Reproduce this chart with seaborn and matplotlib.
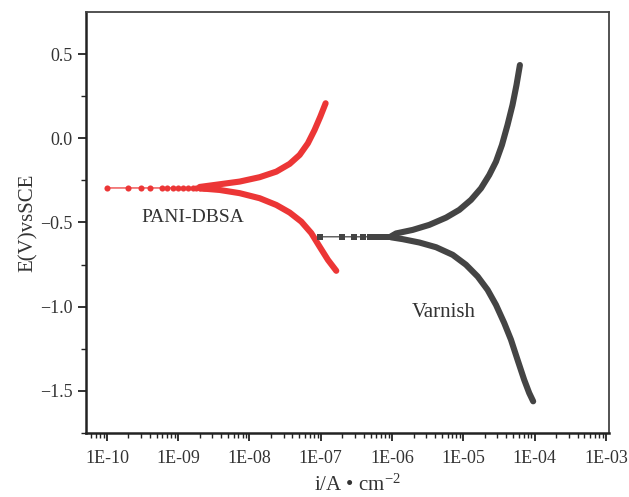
import numpy as np
import pandas as pd
import matplotlib
matplotlib.use("Agg")
import matplotlib.pyplot as plt
import seaborn as sns
from matplotlib.ticker import FixedLocator, FixedFormatter, LogLocator, NullFormatter

# ---- data ----
# PANI-DBSA: flat part near Ecorr (markers), then anodic / cathodic branches
pani_flat_i = [1.0e-10, 2.0e-10, 3.0e-10, 4.0e-10, 6.0e-10, 7.0e-10, 8.5e-10, 1.0e-9,
               1.17e-9, 1.38e-9, 1.62e-9, 1.8e-9, 2.0e-9, 2.2e-9, 2.4e-9, 2.65e-9,
               2.9e-9, 3.15e-9, 3.4e-9]
pani_flat_E = [-0.295, -0.295, -0.295, -0.295, -0.295, -0.295, -0.295, -0.295,
               -0.295, -0.295, -0.295, -0.294, -0.294, -0.294, -0.294, -0.293,
               -0.293, -0.292, -0.292]
pani_anodic_i = [2.0e-9, 3.83e-9, 7.3e-9, 1.39e-8, 2.38e-8, 3.66e-8, 5.05e-8,
                 6.59e-8, 8.18e-8, 9.84e-8, 1.17e-7]
pani_anodic_E = [-0.289, -0.273, -0.257, -0.231, -0.198, -0.152, -0.099,
                 -0.030, 0.049, 0.128, 0.208]
pani_cathodic_i = [2.0e-9, 3.83e-9, 7.3e-9, 1.39e-8, 2.38e-8, 3.66e-8, 5.33e-8,
                   7.36e-8, 9.62e-8, 1.26e-7, 1.65e-7]
pani_cathodic_E = [-0.297, -0.307, -0.326, -0.356, -0.396, -0.441, -0.495,
                   -0.563, -0.643, -0.722, -0.787]

# Varnish
varn_flat_i = [9.84e-8, 2.0e-7, 2.88e-7, 3.89e-7, 4.94e-7, 5.98e-7, 7.03e-7,
               7.6e-7, 8.26e-7, 8.9e-7, 9.7e-7, 1.05e-6, 1.14e-6]
varn_flat_E = [-0.585, -0.585, -0.585, -0.585, -0.585, -0.585, -0.585,
               -0.585, -0.585, -0.585, -0.584, -0.584, -0.584]
varn_anodic_i = [9.7e-7, 1.14e-6, 1.95e-6, 3.34e-6, 5.73e-6, 8.79e-6, 1.28e-5,
                 1.77e-5, 2.31e-5, 2.87e-5, 3.48e-5, 4.17e-5, 4.90e-5, 5.57e-5, 6.22e-5]
varn_anodic_E = [-0.582, -0.565, -0.544, -0.514, -0.471, -0.425, -0.366,
                 -0.297, -0.218, -0.139, -0.040, 0.079, 0.198, 0.316, 0.435]
varn_cathodic_i = [9.7e-7, 1.41e-6, 2.42e-6, 4.15e-6, 7.09e-6, 1.09e-5, 1.59e-5,
                   2.19e-5, 2.87e-5, 3.75e-5, 4.66e-5, 5.76e-5, 7.14e-5, 8.39e-5, 9.55e-5]
varn_cathodic_E = [-0.588, -0.599, -0.619, -0.647, -0.692, -0.751, -0.821,
                   -0.900, -0.989, -1.097, -1.196, -1.315, -1.434, -1.512, -1.562]

x_ticks = [1e-10, 1e-9, 1e-8, 1e-7, 1e-6, 1e-5, 1e-4, 1e-3]
x_tick_labels = ["1E-10", "1E-09", "1E-08", "1E-07", "1E-06", "1E-05", "1E-04", "1E-03"]
y_ticks = [-1.5, -1.0, -0.5, 0.0, 0.5]
y_tick_labels = ["\u22121.5", "\u22121.0", "\u22120.5", "0.0", "0.5"]

RED = "#ec3636"
GRAY = "#444444"

sns.set_style("white")
plt.rcParams["font.family"] = ["Liberation Serif", "DejaVu Serif"]
plt.rcParams["mathtext.fontset"] = "custom"
plt.rcParams["mathtext.rm"] = "Liberation Serif"
plt.rcParams["mathtext.it"] = "Liberation Serif"

fig = plt.figure(figsize=(6.29, 4.97), dpi=100)
ax = fig.add_axes([0.1367, 0.1288, 0.8313, 0.8471])

def draw(xs, ys, color, lw, marker=None, ms=0):
    df = pd.DataFrame({"i": xs, "E": ys})
    sns.lineplot(data=df, x="i", y="E", ax=ax, sort=False, estimator=None,
                 color=color, lw=lw, marker=marker, markersize=ms,
                 markeredgewidth=0, solid_capstyle="round", solid_joinstyle="round")

# PANI-DBSA
draw(pani_flat_i, pani_flat_E, RED, 0.9, "o", 4.4)
draw(pani_anodic_i, pani_anodic_E, RED, 4.4)
draw(pani_cathodic_i, pani_cathodic_E, RED, 4.4)
# Varnish
draw(varn_flat_i, varn_flat_E, GRAY, 0.9, "s", 3.8)
draw(varn_anodic_i, varn_anodic_E, GRAY, 4.4)
draw(varn_cathodic_i, varn_cathodic_E, GRAY, 4.4)

ax.set_xscale("log")
ax.set_xlim(10 ** -10.294, 10 ** -2.958)
ax.set_ylim(-1.75, 0.75)

ax.xaxis.set_major_locator(FixedLocator(x_ticks))
ax.xaxis.set_major_formatter(FixedFormatter(x_tick_labels))
ax.xaxis.set_minor_locator(LogLocator(base=10, subs=np.arange(2, 10), numticks=100))
ax.xaxis.set_minor_formatter(NullFormatter())
ax.yaxis.set_major_locator(FixedLocator(y_ticks))
ax.yaxis.set_major_formatter(FixedFormatter(y_tick_labels))
ax.yaxis.set_minor_locator(FixedLocator([-1.75, -1.25, -0.75, -0.25, 0.25]))

ax.tick_params(axis="both", which="major", direction="out", length=6, width=1.3,
               labelsize=13, color="#222222", labelcolor="#333333",
               bottom=True, left=True, top=False, right=False)
ax.tick_params(axis="both", which="minor", direction="out", length=3.5, width=1.0,
               color="#222222", bottom=True, left=True, top=False, right=False)
ax.tick_params(axis="x", which="major", pad=6)

for side in ["left", "bottom"]:
    ax.spines[side].set_linewidth(1.8)
    ax.spines[side].set_color("#222222")
for side in ["top", "right"]:
    ax.spines[side].set_linewidth(1.3)
    ax.spines[side].set_color("#444444")

ax.set_xlabel("i/A \u2022 cm$^{-2}$", fontsize=15, color="#333333", labelpad=3)
ax.xaxis.set_label_coords(0.52, -0.1)
ax.set_ylabel("E(V)vsSCE", fontsize=15, color="#333333", labelpad=2)

ax.text(10 ** -8.8, -0.473, "PANI-DBSA", fontsize=14, color="#333333",
        ha="center", va="center")
ax.text(10 ** -5.28, -1.036, "Varnish", fontsize=15, color="#333333",
        ha="center", va="center")

fig.savefig("out.png", dpi=100)
